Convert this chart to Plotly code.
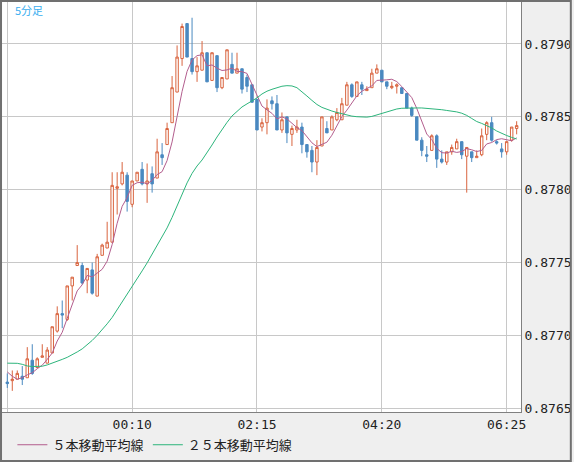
import pandas as pd
import plotly.graph_objects as go

# 5-minute bars, 22:05 .. 06:35
bar_times = list(pd.date_range("2024-01-01 22:05", periods=103, freq="5min").strftime("%H:%M"))

opens = [
    0.87668, 0.87669, 0.87670, 0.87672, 0.87671, 0.87683, 0.87678, 0.87685, 0.87681, 0.87688,
    0.87703, 0.87715, 0.87711, 0.87734, 0.87748, 0.87748, 0.87738, 0.87745, 0.87727, 0.87755,
    0.87760, 0.87764, 0.87801, 0.87804, 0.87810, 0.87790, 0.87806, 0.87814, 0.87804, 0.87811,
    0.87808, 0.87824, 0.87831, 0.87846, 0.87867, 0.87890, 0.87914, 0.87890, 0.87881, 0.87882,
    0.87894, 0.87875, 0.87892, 0.87870, 0.87876, 0.87886, 0.87880, 0.87883, 0.87877, 0.87872,
    0.87862, 0.87843, 0.87846, 0.87861, 0.87859, 0.87841, 0.87850, 0.87838, 0.87841, 0.87843,
    0.87831, 0.87827, 0.87819, 0.87830, 0.87842, 0.87841, 0.87848, 0.87848, 0.87858, 0.87872,
    0.87864, 0.87872, 0.87868, 0.87870, 0.87880, 0.87882, 0.87874, 0.87870, 0.87871, 0.87870,
    0.87866, 0.87856, 0.87850, 0.87834, 0.87824, 0.87827, 0.87837, 0.87821, 0.87819, 0.87826,
    0.87828, 0.87833, 0.87823, 0.87826, 0.87822, 0.87824, 0.87838, 0.87846, 0.87833, 0.87828,
    0.87826, 0.87834, 0.87842,
]
highs = [
    0.87674, 0.87676, 0.87676, 0.87679, 0.87692, 0.87694, 0.87685, 0.87694, 0.87692, 0.87706,
    0.87720, 0.87724, 0.87734, 0.87740, 0.87762, 0.87750, 0.87746, 0.87750, 0.87756, 0.87763,
    0.87778, 0.87812, 0.87812, 0.87819, 0.87812, 0.87806, 0.87812, 0.87819, 0.87818, 0.87816,
    0.87835, 0.87832, 0.87846, 0.87878, 0.87899, 0.87914, 0.87914, 0.87918, 0.87891, 0.87902,
    0.87894, 0.87894, 0.87892, 0.87877, 0.87896, 0.87894, 0.87894, 0.87883, 0.87879, 0.87872,
    0.87862, 0.87849, 0.87862, 0.87864, 0.87865, 0.87853, 0.87850, 0.87844, 0.87848, 0.87846,
    0.87831, 0.87830, 0.87834, 0.87850, 0.87847, 0.87851, 0.87856, 0.87863, 0.87874, 0.87873,
    0.87874, 0.87874, 0.87871, 0.87883, 0.87886, 0.87882, 0.87874, 0.87874, 0.87873, 0.87870,
    0.87866, 0.87857, 0.87850, 0.87836, 0.87830, 0.87838, 0.87838, 0.87827, 0.87826, 0.87831,
    0.87835, 0.87833, 0.87829, 0.87826, 0.87827, 0.87842, 0.87847, 0.87850, 0.87834, 0.87832,
    0.87833, 0.87843, 0.87847,
]
lows = [
    0.87664, 0.87662, 0.87670, 0.87666, 0.87671, 0.87673, 0.87678, 0.87685, 0.87681, 0.87688,
    0.87702, 0.87705, 0.87710, 0.87724, 0.87748, 0.87735, 0.87729, 0.87728, 0.87727, 0.87755,
    0.87760, 0.87764, 0.87783, 0.87803, 0.87785, 0.87788, 0.87806, 0.87803, 0.87791, 0.87798,
    0.87808, 0.87817, 0.87831, 0.87846, 0.87867, 0.87885, 0.87891, 0.87879, 0.87874, 0.87882,
    0.87874, 0.87875, 0.87867, 0.87869, 0.87876, 0.87880, 0.87880, 0.87866, 0.87867, 0.87860,
    0.87841, 0.87840, 0.87838, 0.87855, 0.87841, 0.87839, 0.87832, 0.87830, 0.87839, 0.87825,
    0.87822, 0.87812, 0.87810, 0.87830, 0.87839, 0.87841, 0.87847, 0.87848, 0.87858, 0.87863,
    0.87864, 0.87865, 0.87868, 0.87870, 0.87880, 0.87874, 0.87869, 0.87869, 0.87866, 0.87866,
    0.87856, 0.87850, 0.87834, 0.87823, 0.87819, 0.87827, 0.87815, 0.87818, 0.87817, 0.87824,
    0.87828, 0.87821, 0.87798, 0.87819, 0.87822, 0.87823, 0.87834, 0.87833, 0.87831, 0.87822,
    0.87824, 0.87833, 0.87838,
]
closes = [
    0.87667, 0.87670, 0.87674, 0.87670, 0.87684, 0.87674, 0.87684, 0.87686, 0.87690, 0.87706,
    0.87715, 0.87714, 0.87734, 0.87740, 0.87750, 0.87736, 0.87746, 0.87729, 0.87754, 0.87762,
    0.87764, 0.87803, 0.87802, 0.87812, 0.87792, 0.87806, 0.87812, 0.87804, 0.87806, 0.87804,
    0.87826, 0.87822, 0.87842, 0.87870, 0.87891, 0.87912, 0.87891, 0.87881, 0.87885, 0.87894,
    0.87874, 0.87894, 0.87870, 0.87877, 0.87896, 0.87880, 0.87883, 0.87869, 0.87871, 0.87860,
    0.87841, 0.87846, 0.87856, 0.87859, 0.87841, 0.87848, 0.87839, 0.87842, 0.87843, 0.87831,
    0.87826, 0.87819, 0.87829, 0.87850, 0.87839, 0.87850, 0.87853, 0.87859, 0.87872, 0.87864,
    0.87874, 0.87869, 0.87869, 0.87880, 0.87883, 0.87874, 0.87871, 0.87871, 0.87872, 0.87866,
    0.87856, 0.87851, 0.87834, 0.87827, 0.87823, 0.87837, 0.87821, 0.87819, 0.87826, 0.87829,
    0.87833, 0.87824, 0.87829, 0.87822, 0.87823, 0.87837, 0.87846, 0.87834, 0.87832, 0.87826,
    0.87833, 0.87843, 0.87844,
]
ma5 = [
    0.87675, 0.87672, 0.87670, 0.87671, 0.87673, 0.876744, 0.876772, 0.876796, 0.876836, 0.87688,
    0.876962, 0.877022, 0.877118, 0.877218, 0.877306, 0.877348, 0.877412, 0.877402, 0.87743, 0.877454,
    0.87751, 0.877624, 0.87777, 0.877886, 0.877946, 0.87803, 0.878048, 0.878052, 0.87804, 0.878064,
    0.878104, 0.878124, 0.8782, 0.878328, 0.878502, 0.878674, 0.878812, 0.87889, 0.87892, 0.878926,
    0.87885, 0.878856, 0.878834, 0.878818, 0.878822, 0.878834, 0.878812, 0.87881, 0.878798, 0.878726,
    0.878648, 0.878574, 0.878548, 0.878524, 0.878486, 0.8785, 0.878486, 0.878458, 0.878426, 0.878406,
    0.878362, 0.878322, 0.878296, 0.87831, 0.878326, 0.878374, 0.878442, 0.878502, 0.878546, 0.878596,
    0.878644, 0.878676, 0.878696, 0.878712, 0.87875, 0.87875, 0.878754, 0.878758, 0.878742, 0.878708,
    0.878672, 0.878632, 0.878558, 0.878468, 0.878382, 0.878344, 0.878284, 0.878254, 0.878252, 0.878264,
    0.878256, 0.878262, 0.878282, 0.878274, 0.878262, 0.87827, 0.878314, 0.878324, 0.878344, 0.87835,
    0.878342, 0.878336, 0.878356,
]
ma25 = [
    0.87681, 0.87681, 0.876809, 0.876802, 0.876791, 0.876787, 0.876787, 0.876789, 0.876798, 0.876809,
    0.876822, 0.876836, 0.87685, 0.876867, 0.876887, 0.876908, 0.876935, 0.876966, 0.877001, 0.877038,
    0.87708, 0.877124, 0.877176, 0.87723, 0.877285, 0.877337, 0.877388, 0.877443, 0.877498, 0.877556,
    0.877615, 0.877673, 0.877738, 0.87781, 0.877889, 0.877971, 0.878047, 0.878112, 0.878163, 0.878204,
    0.878252, 0.878307, 0.878362, 0.878414, 0.878462, 0.878506, 0.87854, 0.878568, 0.878589, 0.878609,
    0.87863, 0.878657, 0.878676, 0.878689, 0.878702, 0.87871, 0.878714, 0.878712, 0.8787, 0.878674,
    0.878643, 0.878613, 0.878585, 0.878565, 0.878551, 0.87854, 0.87853, 0.87852, 0.878511, 0.878505,
    0.878501, 0.878498, 0.878498, 0.878503, 0.878513, 0.878525, 0.878537, 0.878547, 0.878554, 0.878559,
    0.878561, 0.878561, 0.878561, 0.878561, 0.878559, 0.878557, 0.878553, 0.878549, 0.878544, 0.87854,
    0.878534, 0.878525, 0.87851, 0.878489, 0.878468, 0.878455, 0.878441, 0.878424, 0.878403, 0.878386,
    0.878372, 0.878359, 0.878348,
]

tick_times = ["22:05", "00:10", "02:15", "04:20", "06:25"]
tick_labels = ["", "00:10", "02:15", "04:20", "06:25"]
price_ticks = [0.8765, 0.8770, 0.8775, 0.8780, 0.8785, 0.8790]

RED = "#d9643f"
BLUE = "#4a89c0"
JP = "Noto Sans CJK JP"
MONO = "DejaVu Sans Mono"

fig = go.Figure()

fig.add_trace(go.Candlestick(
    x=bar_times, open=opens, high=highs, low=lows, close=closes,
    increasing=dict(line=dict(color=RED, width=1), fillcolor="white"),
    decreasing=dict(line=dict(color=BLUE, width=1), fillcolor=BLUE),
    whiskerwidth=0,
    showlegend=False,
))

fig.add_trace(go.Scatter(
    x=bar_times, y=ma5, mode="lines",
    name="５本移動平均線",
    line=dict(color="#b35e8e", width=1),
    legend="legend",
))

fig.add_trace(go.Scatter(
    x=bar_times, y=ma25, mode="lines",
    name="２５本移動平均線",
    line=dict(color="#2db57c", width=1),
    legend="legend2",
))

fig.update_xaxes(
    type="category",
    range=[-1.06, 102.87],
    tickvals=tick_times, ticktext=tick_labels,
    showgrid=True, gridcolor="#c8c8c8", gridwidth=1,
    showline=True, linecolor="#808080", linewidth=1,
    ticks="", tickfont=dict(family=MONO, size=13, color="#222"),
    rangeslider=dict(visible=False),
)
fig.update_yaxes(
    side="right",
    range=[0.876475, 0.879288],
    tickvals=price_ticks, tickformat=".4f",
    showgrid=True, gridcolor="#c8c8c8", gridwidth=1,
    showline=True, linecolor="#808080", linewidth=1,
    zeroline=False,
    ticks="", tickfont=dict(family=MONO, size=13, color="#222"),
)

leg = dict(
    orientation="h", y=-0.08, xanchor="left", yanchor="middle",
    font=dict(family=JP, size=13, color="#222"),
    bgcolor="rgba(0,0,0,0)", itemwidth=30,
)

fig.update_layout(
    width=574, height=462,
    margin=dict(l=2, r=51, t=2, b=50),
    paper_bgcolor="#efefef", plot_bgcolor="white",
    legend=dict(leg, x=0.02),
    legend2=dict(leg, x=0.281),
    annotations=[dict(
        text="5分足", xref="paper", yref="paper", x=0.022, y=0.981,
        xanchor="left", yanchor="middle", showarrow=False,
        font=dict(family=JP, size=11, color="#3aaeef"),
    )],
    shapes=[dict(
        type="rect", xref="paper", yref="paper",
        x0=-0.0019, x1=1.096, y0=-0.1195, y1=1.0024,
        line=dict(color="#707070", width=2),
    )],
)

# the page's default 8px body margin would push the figure out of the window
fig.write_html(
    "out.html",
    config={"displayModeBar": False},
    post_script="document.body.style.margin='0';",
)
